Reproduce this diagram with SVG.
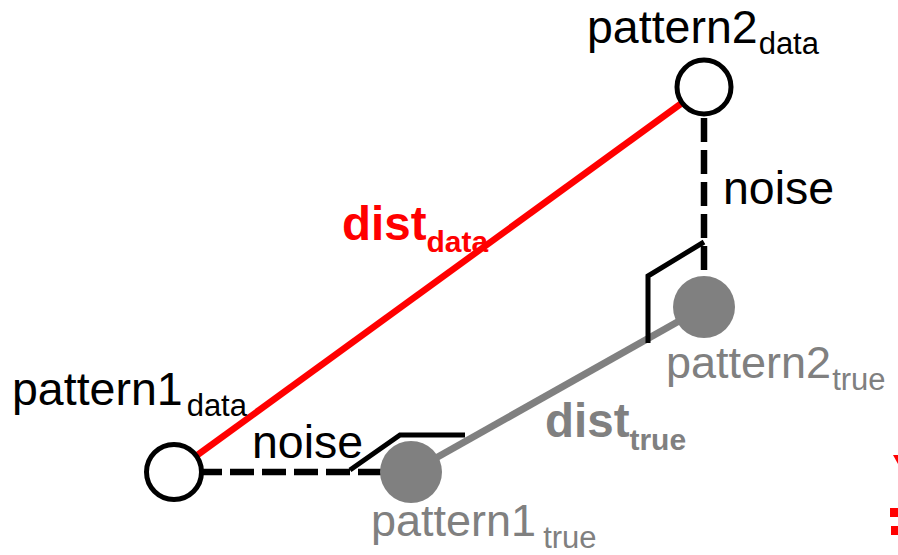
<svg xmlns="http://www.w3.org/2000/svg" width="898" height="555" viewBox="0 0 898 555">
<style>
text{font-family:"Liberation Sans",Arial,sans-serif}
.blk{fill:#000;font-size:46.5px}
.gry{fill:#808080;font-size:45px}
.sub{font-size:31px}
.bsub{font-size:30px}
.bold{font-weight:bold;font-size:47.5px}
.dash{stroke:#000;stroke-width:6.5;fill:none;stroke-dasharray:24 8}
.mark{stroke:#000;stroke-width:5;fill:none}
.open{fill:#fff;stroke:#000;stroke-width:5}
.filled{fill:#808080;stroke:none}
</style>
<rect width="898" height="555" fill="#fff"/>
<g id="connectors">
  <line id="dist_data" x1="174" y1="472" x2="704" y2="87" stroke="#ff0000" stroke-width="6.5"/>
  <line id="dist_true" x1="411" y1="472" x2="704" y2="307" stroke="#808080" stroke-width="7"/>
  <line id="noise2" class="dash" x1="704" y1="118" x2="704" y2="280"/>
  <line id="noise1" class="dash" x1="198" y1="472" x2="382" y2="472"/>
  <polyline id="rightangle2" class="mark" points="704,242 648,276 648,343"/>
  <polyline id="rightangle1" class="mark" points="350,470 400,435 465,435"/>
</g>
<g id="pattern1_data">
  <circle class="open" cx="174" cy="472" r="27.5"/>
  <text class="blk" x="12" y="405">pattern1<tspan class="sub" dx="4" y="416">data</tspan></text>
</g>
<g id="pattern2_data">
  <circle class="open" cx="704" cy="87" r="27"/>
  <text class="blk" x="587" y="43">pattern2<tspan class="sub" dx="1" y="54">data</tspan></text>
</g>
<g id="pattern1_true">
  <circle class="filled" cx="411" cy="472" r="31"/>
  <text class="gry" x="371" y="536">pattern1<tspan class="sub" dx="7" y="548">true</tspan></text>
</g>
<g id="pattern2_true">
  <circle class="filled" cx="704" cy="307" r="31"/>
  <text class="gry" x="666" y="378">pattern2<tspan class="sub" dx="1" y="390">true</tspan></text>
</g>
<g id="labels">
  <text class="blk" x="723" y="204">noise</text>
  <text class="blk" x="252" y="458">noise</text>
  <text class="bold" x="342" y="240" fill="#ff0000">dist<tspan class="bsub" y="252">data</tspan></text>
  <text class="bold" x="545" y="437" fill="#808080">dist<tspan class="bsub" y="450">true</tspan></text>
</g>
<g id="edge_marks" fill="#ff0000">
  <polygon points="893,455 898,455 898,464"/>
  <rect x="890" y="508" width="8" height="9"/>
  <rect x="891" y="526" width="7" height="9"/>
</g>
</svg>
